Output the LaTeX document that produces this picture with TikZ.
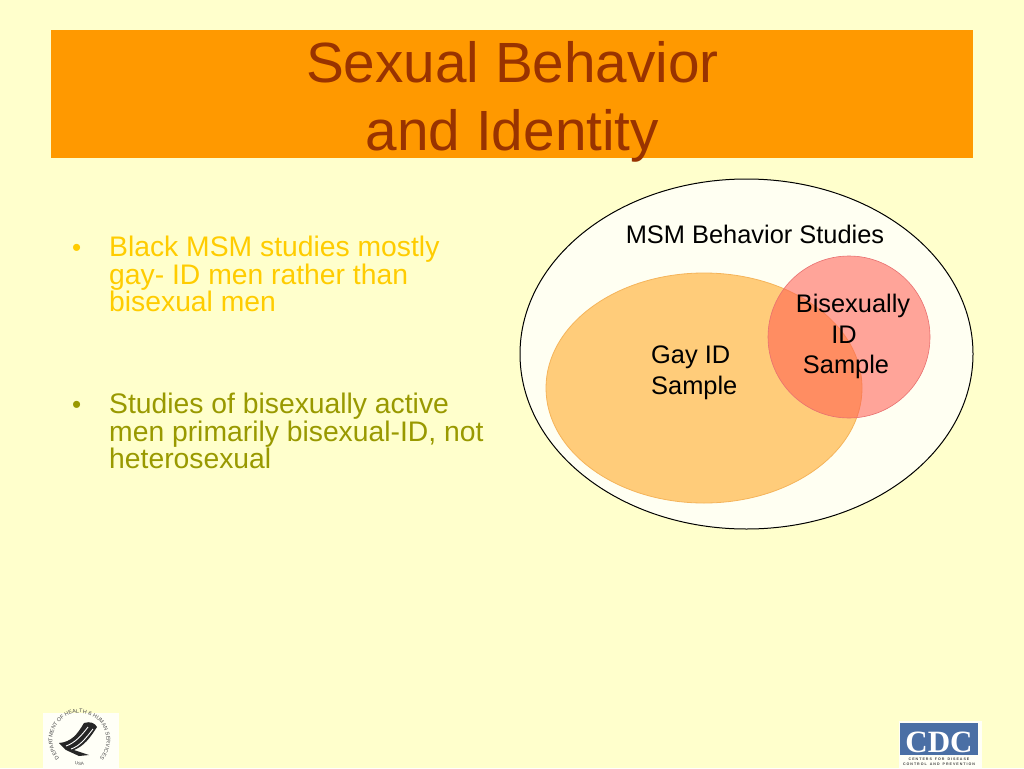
\documentclass[tikz,border=0pt]{standalone}
\usepackage{fontspec}
\setmainfont{Liberation Sans}
\newfontfamily\serifcdc{Liberation Serif}
\usetikzlibrary{decorations.text}
\definecolor{pagebg}{HTML}{FFFFCC}
\definecolor{banner}{HTML}{FF9900}
\definecolor{titletxt}{HTML}{993300}
\definecolor{bulletone}{HTML}{FFCC00}
\definecolor{bullettwo}{HTML}{999900}
\definecolor{outerfill}{HTML}{FFFFF2}
\definecolor{gayfill}{HTML}{FFCC7A}
\definecolor{gayedge}{HTML}{F5B45A}
\definecolor{bifill}{HTML}{FF5A50}
\definecolor{biedge}{HTML}{E87070}
\definecolor{cdcblue}{HTML}{4A6FA5}
\tikzset{
  titletext/.style={anchor=base,font=\fontsize{56.7}{57}\selectfont,text=titletxt,inner sep=0},
  bodyline/.style={anchor=base west,font=\fontsize{28.3}{28}\selectfont,inner sep=0},
  bulletmark/.style={anchor=base west,font=\fontsize{26}{26}\selectfont,inner sep=0},
  vennlabel/.style={anchor=base,font=\fontsize{25.4}{26}\selectfont,text=black,inner sep=0},
  cdcsmall/.style={anchor=base,font=\bfseries\fontsize{3.6}{4}\selectfont,text=black!75,inner sep=0},
}
\begin{document}
\begin{tikzpicture}[x=1pt,y=-1pt]
\useasboundingbox (0,0) rectangle (1024,768);
\fill[pagebg] (0,0) rectangle (1024,768);
\fill[banner] (51,30) rectangle (973,158);
\node[titletext] (t1) at (512.5,82) {Sexual Behavior};
\node[titletext] (t2) at (512.5,150) {and Identity};
% bullets
\node[bulletmark,text=bulletone] (b0) at (72,256.5) {•};
\node[bodyline,text=bulletone] (b1) at (109,256.5) {Black MSM studies mostly};
\node[bodyline,text=bulletone] (b2) at (109,284.5) {gay- ID men rather than};
\node[bodyline,text=bulletone] (b3) at (109,311.5) {bisexual men};
\node[bulletmark,text=bullettwo] (c0) at (72,413.5) {•};
\node[bodyline,text=bullettwo] (c1) at (109,413.5) {Studies of bisexually active};
\node[bodyline,text=bullettwo] (c2) at (109,441.5) {men primarily bisexual-ID, not};
\node[bodyline,text=bullettwo] (c3) at (109,468.5) {heterosexual};
% venn
\draw[black,line width=1pt,fill=outerfill] (746.5,354) ellipse [x radius=226.5,y radius=175];
\draw[gayedge,line width=.8pt,fill=gayfill] (704,388) ellipse [x radius=158,y radius=115];
\fill[bifill,fill opacity=.55] (849,337) circle [radius=81];
\draw[biedge,line width=.6pt] (849,337) circle [radius=81];
\node[vennlabel] (m) at (755,243) {MSM Behavior Studies};
\node[vennlabel,anchor=base west] (g1) at (651,363) {Gay ID};
\node[vennlabel,anchor=base west] (g2) at (651,394) {Sample};
\node[vennlabel] (s1) at (853,312) {Bisexually};
\node[vennlabel] (s2) at (844,343) {ID};
\node[vennlabel] (s3) at (846,373) {Sample};
% HHS logo
\fill[white!85!pagebg] (43,713) rectangle (119,768);
\begin{scope}[shift={(79.5,740)},y=1pt]
\path[postaction={decorate},decoration={text along path,text align=center,
  text={|\fontsize{5.4}{7}\selectfont\color{black!70}|DEPARTMENT OF HEALTH {\&} HUMAN SERVICES}}]
  (225:27) arc [start angle=225,end angle=-45,radius=27];
\path[postaction={decorate},decoration={text along path,text align=center,
  text={|\fontsize{4.5}{6}\selectfont\color{black!70}|USA}}]
  (235:25) arc [start angle=235,end angle=305,radius=25];
\end{scope}
\fill[black!85] (59,743) .. controls (71,742) and (77,735) .. (84,723)
  .. controls (90,721) and (95,723) .. (97,727) .. controls (90,738) and (84,746) .. (74,750)
  -- (89,755) -- (79,756) -- (66,750) -- cycle;
\draw[white,line width=.9pt] (66,746) .. controls (75,743) and (82,735) .. (88,727);
\draw[white,line width=.9pt] (71,749) .. controls (80,746) and (86,738) .. (93,729);
% CDC logo
\fill[white!85!pagebg] (899,721) rectangle (982,768);
\fill[cdcblue] (900,723) rectangle (978,755);
\node[anchor=base,font=\serifcdc\bfseries\fontsize{31}{31}\selectfont,text=white,inner sep=0] (cdc) at (939,752) {CDC};
\node[cdcsmall] (cl1) at (939,760) {C E N T E R S \ \ F O R \ \ D I S E A S E};
\node[cdcsmall] (cl2) at (939,765) {C O N T R O L \ \ A N D \ \ P R E V E N T I O N};
\end{tikzpicture}
\end{document}
